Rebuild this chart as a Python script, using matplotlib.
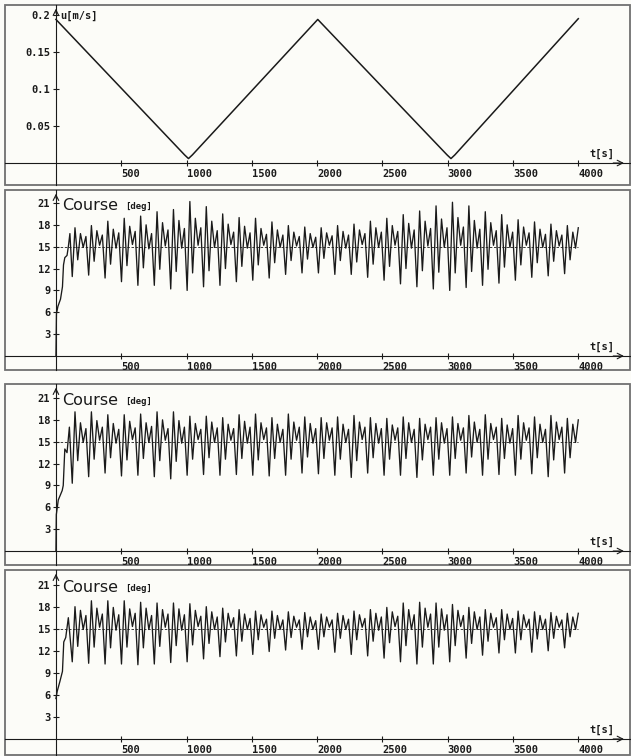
import numpy as np
import matplotlib
matplotlib.use("Agg")
import matplotlib.pyplot as plt
from matplotlib.patches import Rectangle

# ---- panel 1: forward speed u [m/s], triangle sweep (corner points)
u_t = [0, 985, 1015, 1045, 2005, 2995, 3025, 3055, 4000]
u_val = [0.194, 0.011, 0.006, 0.011, 0.194, 0.011, 0.006, 0.011, 0.195]

# ---- course panels: start-up transient (t, deg)
tr_t_b = [0, 4, 15, 35, 50, 58, 68, 85, 95, 107]
tr_b = [0, 5.8, 6.8, 7.8, 9.5, 12.5, 13.5, 13.8, 15.0, 16.8]
tr_t_c = [0, 3, 18, 48, 56, 68, 85, 103]
tr_c = [0, 5.0, 7.0, 8.3, 9.0, 14.0, 13.5, 17.0]
tr_t_d = [0, 10, 30, 50, 60, 75, 95]
tr_d = [5.5, 6.5, 7.8, 9.2, 13.2, 13.8, 16.5]

# turning points after the transient, one row per wave group (~126 s):
# deep low, high, shallow low, 2nd high, small dip, 3rd high
course_b = [
    10.9, 17.6, 13.2, 16.8, 14.9, 16.4,
    11.1, 17.9, 13.0, 17.2, 15.2, 16.6,
    10.7, 18.5, 12.6, 17.4, 14.8, 16.9,
    10.2, 18.9, 12.4, 17.8, 15.3, 17.1,
    9.7, 19.2, 12.1, 18.0, 14.7, 16.8,
    9.7, 19.8, 11.9, 18.3, 15.1, 17.3,
    9.2, 20.1, 11.6, 18.6, 14.8, 17.5,
    9.0, 21.2, 11.4, 18.9, 15.2, 17.6,
    9.5, 20.5, 11.7, 18.5, 14.9, 17.2,
    9.7, 19.5, 12.0, 18.1, 15.3, 17.0,
    10.2, 19.0, 12.3, 17.8, 14.8, 16.9,
    10.4, 18.9, 12.5, 17.5, 15.2, 16.7,
    10.7, 18.4, 12.8, 17.3, 14.9, 16.6,
    11.2, 17.9, 13.1, 17.0, 15.1, 16.4,
    11.4, 17.7, 13.3, 16.8, 14.9, 16.3,
    11.4, 17.6, 13.4, 16.9, 15.2, 16.5,
    11.2, 17.9, 13.1, 17.1, 14.8, 16.6,
    11.2, 18.1, 12.9, 17.3, 15.3, 16.8,
    10.8, 18.5, 12.6, 17.6, 14.9, 17.0,
    10.4, 18.9, 12.3, 17.9, 15.2, 17.1,
    9.9, 19.4, 12.0, 18.2, 14.8, 17.3,
    9.5, 19.9, 11.7, 18.5, 15.1, 17.5,
    9.2, 20.6, 11.5, 18.8, 14.9, 17.6,
    9.0, 21.1, 11.4, 19.0, 15.2, 17.7,
    9.4, 20.6, 11.6, 18.6, 14.8, 17.4,
    9.7, 19.8, 11.9, 18.3, 15.2, 17.2,
    10.0, 19.4, 12.2, 18.0, 14.9, 17.0,
    10.4, 18.7, 12.5, 17.7, 15.2, 16.9,
    10.8, 18.4, 12.8, 17.4, 14.9, 16.7,
    11.0, 18.1, 13.0, 17.2, 15.1, 16.6,
    11.3, 17.9, 13.2, 17.0, 14.8, 17.6,
]
course_c = [
    9.3, 19.1, 12.4, 17.6, 14.9, 16.8,
    10.2, 19.1, 12.6, 17.9, 15.2, 17.0,
    10.7, 18.7, 12.8, 17.5, 14.8, 16.7,
    10.3, 18.7, 12.5, 17.8, 15.3, 16.9,
    10.4, 18.8, 12.7, 17.6, 14.9, 17.1,
    10.2, 19.1, 12.4, 18.0, 15.2, 16.8,
    9.9, 19.1, 12.3, 17.9, 14.8, 17.0,
    10.4, 18.5, 12.6, 17.5, 15.3, 16.7,
    10.5, 18.5, 12.8, 17.7, 14.9, 16.9,
    10.4, 18.3, 12.6, 17.4, 15.2, 16.8,
    10.5, 18.7, 12.7, 17.8, 14.8, 17.0,
    10.4, 18.8, 12.5, 17.6, 15.3, 16.9,
    10.3, 18.3, 12.7, 17.4, 14.9, 16.7,
    10.4, 18.8, 12.6, 17.7, 15.2, 17.0,
    10.7, 18.4, 12.9, 17.5, 14.8, 16.8,
    10.6, 18.3, 12.7, 17.6, 15.2, 16.9,
    10.4, 18.4, 12.6, 17.4, 14.9, 16.7,
    10.1, 18.6, 12.4, 17.7, 15.3, 17.0,
    10.7, 18.3, 12.8, 17.5, 14.8, 16.8,
    10.4, 18.2, 12.6, 17.3, 15.2, 16.9,
    10.4, 18.4, 12.7, 17.6, 14.9, 16.7,
    10.1, 18.2, 12.5, 17.4, 15.3, 17.0,
    10.4, 18.3, 12.6, 17.6, 14.8, 16.8,
    10.4, 18.4, 12.7, 17.5, 15.2, 16.9,
    10.7, 18.6, 12.9, 17.7, 14.9, 16.7,
    10.4, 18.7, 12.6, 17.5, 15.3, 17.0,
    10.5, 18.2, 12.7, 17.3, 14.8, 16.8,
    10.4, 18.6, 12.6, 17.6, 15.2, 16.9,
    10.6, 18.4, 12.8, 17.4, 14.9, 16.7,
    10.2, 18.6, 12.5, 17.7, 15.3, 17.0,
    10.7, 18.2, 12.8, 17.4, 14.9, 18.0,
]
course_d = [
    10.5, 18.0, 12.6, 17.5, 14.9, 16.8,
    10.3, 18.8, 12.5, 17.8, 15.2, 17.0,
    10.2, 18.8, 12.4, 17.9, 14.8, 16.9,
    10.2, 18.8, 12.5, 17.7, 15.3, 17.1,
    10.1, 18.6, 12.4, 17.8, 14.9, 16.8,
    10.2, 18.5, 12.6, 17.6, 15.2, 17.0,
    10.4, 18.5, 12.7, 17.7, 14.8, 16.9,
    10.5, 18.4, 12.8, 17.5, 15.3, 16.7,
    10.9, 18.0, 13.0, 17.3, 14.9, 16.6,
    11.2, 17.8, 13.2, 17.1, 15.2, 16.5,
    11.3, 17.6, 13.3, 17.0, 14.9, 16.4,
    11.5, 17.4, 13.5, 16.9, 15.2, 16.3,
    11.9, 17.4, 13.7, 16.8, 14.9, 16.2,
    12.1, 17.3, 13.8, 16.7, 15.2, 16.2,
    12.2, 17.2, 13.9, 16.6, 14.9, 16.1,
    12.2, 17.0, 13.9, 16.6, 15.2, 16.2,
    11.8, 17.1, 13.7, 16.8, 14.9, 16.3,
    11.5, 17.4, 13.5, 16.9, 15.2, 16.4,
    11.3, 17.6, 13.3, 17.1, 14.8, 16.6,
    11.0, 17.9, 13.1, 17.3, 15.3, 16.7,
    10.5, 18.5, 12.7, 17.6, 14.9, 16.9,
    10.2, 18.6, 12.5, 17.8, 15.2, 17.0,
    10.2, 18.5, 12.5, 17.7, 14.8, 16.9,
    10.5, 18.3, 12.7, 17.5, 15.3, 16.8,
    11.0, 17.9, 13.0, 17.3, 14.9, 16.6,
    11.4, 17.6, 13.3, 17.1, 15.2, 16.5,
    11.7, 17.6, 13.5, 17.0, 14.9, 16.4,
    11.7, 17.4, 13.5, 16.9, 15.2, 16.3,
    11.8, 17.3, 13.6, 16.8, 14.9, 16.3,
    12.0, 17.2, 13.7, 16.7, 15.2, 16.2,
    12.4, 17.1, 13.9, 16.6, 14.9, 17.1,
]

# turning points are equally spaced from t=125 s to t=4000 s
T_START, T_END = 125, 4000
course_ref = 15
x_ticks = [500, 1000, 1500, 2000, 2500, 3000, 3500, 4000]
u_ticks = [0.05, 0.1, 0.15, 0.2]
u_ticklabels = ["0.05", "0.1", "0.15", "0.2"]
c_ticks = [3, 6, 9, 12, 15, 18, 21]

W, H = 631, 756
BG = "#fcfcf8"
INK = "#1a1a1a"
X_LEFT, X_RIGHT = -390, 4396
MONO = dict(family="DejaVu Sans Mono", weight="bold")

fig = plt.figure(figsize=(W / 100, H / 100), dpi=100, facecolor=BG)


def make_ax(top, bottom, ylim):
    ax = fig.add_axes([5 / W, 1 - bottom / H, 625 / W, (bottom - top) / H])
    ax.set_facecolor(BG)
    ax.set_xlim(X_LEFT, X_RIGHT)
    ax.set_ylim(*ylim)
    ax.spines["top"].set_visible(False)
    ax.spines["right"].set_visible(False)
    ax.spines["left"].set_position(("data", 0))
    ax.spines["bottom"].set_position(("data", 0))
    for s in ("left", "bottom"):
        ax.spines[s].set_linewidth(0.8)
        ax.spines[s].set_color(INK)
    ax.add_patch(Rectangle((0, 0), 1, 1, transform=ax.transAxes, fill=False,
                           ec="#707070", lw=1.3, clip_on=False))
    ax.tick_params(direction="inout", length=4, width=0.8, colors=INK,
                   labelsize=7.5, pad=2)
    ax.set_xticks(x_ticks)
    ax.set_xticklabels([str(v) for v in x_ticks], ha="left", **MONO)
    # arrows on the axes
    ax.annotate("", xy=(X_RIGHT - 25, 0), xytext=(X_RIGHT - 150, 0),
                arrowprops=dict(arrowstyle="->", lw=0.8, color=INK))
    y0, y1 = ylim
    ax.annotate("", xy=(0, y1 - (y1 - y0) * 0.005), xytext=(0, y1 - (y1 - y0) * 0.06),
                arrowprops=dict(arrowstyle="->", lw=0.8, color=INK))
    return ax


def course_panel(top, bottom, ylim, tr_t, tr_v, vals):
    ax = make_ax(top, bottom, ylim)
    ax.set_yticks(c_ticks)
    ax.set_yticklabels([str(v) for v in c_ticks], **MONO)
    t_ext = np.linspace(T_START, T_END, len(vals))
    t = np.concatenate([tr_t, t_ext])
    v = np.concatenate([tr_v, vals])
    ax.hlines(course_ref, 0, T_END, colors=INK, lw=0.6, linestyles=(0, (3, 2)))
    ax.plot(t, v, color=INK, lw=0.95)
    ax.text(46, 20.0, "Course", fontsize=11.5, color=INK, family="DejaVu Sans")
    ax.text(528, 20.15, "[deg]", fontsize=6.5, color=INK, **MONO)
    ax.text(4083, 0.8, "t[s]", fontsize=7.5, color=INK, **MONO)
    return ax


# panel 1
ax1 = make_ax(5, 185, (-0.0297, 0.2135))
ax1.set_yticks(u_ticks)
ax1.set_yticklabels(u_ticklabels, **MONO)
ax1.plot(u_t, u_val, color=INK, lw=1.1)
ax1.text(31, 0.195, "u[m/s]", fontsize=7.5, color=INK, **MONO)
ax1.text(4083, 0.008, "t[s]", fontsize=7.5, color=INK, **MONO)

course_panel(190, 370, (-1.92, 22.78), tr_t_b, tr_b, course_b)
course_panel(384, 565, (-1.92, 22.92), tr_t_c, tr_c, course_c)
course_panel(570, 755, (-2.18, 22.99), tr_t_d, tr_d, course_d)

fig.savefig("out.png", dpi=100, facecolor=BG)
